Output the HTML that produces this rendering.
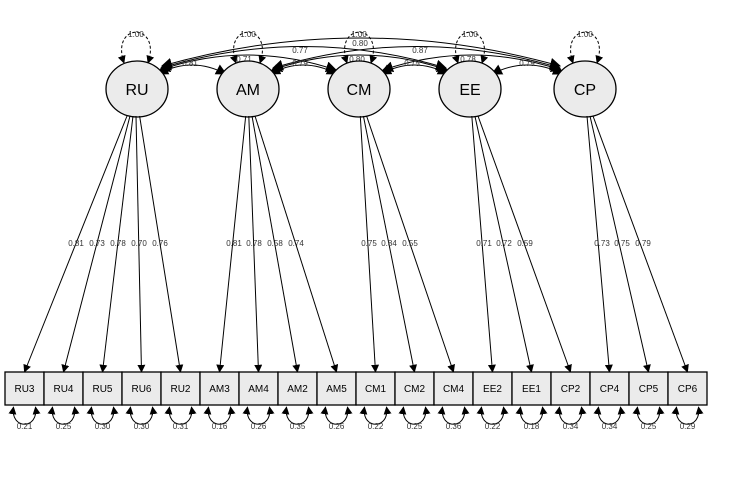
<!DOCTYPE html>
<html><head><style>
body{margin:0;background:#fff}
svg{display:block;font-family:"Liberation Sans",sans-serif}
.l{stroke:#000;stroke-width:1;fill:none}
.t{font-size:8px;fill:#333;text-anchor:middle}
.n{font-size:16px;text-anchor:middle;fill:#000}
.b{font-size:10px;text-anchor:middle;fill:#000}
</style></head><body>
<svg width="729" height="501" viewBox="0 0 729 501">
<defs>
<marker id="a" viewBox="0 0 10 10" refX="9" refY="5" markerWidth="8" markerHeight="8" markerUnits="userSpaceOnUse" orient="auto-start-reverse"><path d="M0 0L10 5L0 10z" fill="#000"/></marker>
<marker id="c" viewBox="0 0 10 10" refX="9" refY="5" markerWidth="11" markerHeight="11" markerUnits="userSpaceOnUse" orient="auto-start-reverse"><path d="M0 0L10 5L0 10z" fill="#000"/></marker>
</defs>
<rect width="729" height="501" fill="#fff"/>
<g class="l" stroke-dasharray="3,2" marker-start="url(#a)" marker-end="url(#a)">
<path d="M124 63C110 22 162 22 148 63"/>
<path d="M236 63C222 22 274 22 260 63"/>
<path d="M347 63C333 22 385 22 371 63"/>
<path d="M458 63C444 22 496 22 482 63"/>
<path d="M573 63C559 22 611 22 597 63"/>
</g>
<g class="t"><text x="136" y="37">1.00</text><text x="248" y="37">1.00</text><text x="359" y="37">1.00</text><text x="470" y="37">1.00</text><text x="585" y="37">1.00</text></g>
<g class="l" marker-start="url(#c)" marker-end="url(#c)">
<path d="M158 74Q192 56 226 74"/>
<path d="M270 74Q303 56 337 74"/>
<path d="M381 74Q414 56 448 74"/>
<path d="M492 74Q527 56 563 74"/>
<path d="M160 70Q247 40 336 70"/>
<path d="M272 70Q359 40 447 70"/>
<path d="M383 70Q472 40 561 70"/>
<path d="M161 68Q303 25 446 68"/>
<path d="M273 68Q416 25 560 68"/>
<path d="M162 66Q360 10 560 66"/>
</g>
<g class="t">
<text x="190" y="66">0.81</text><text x="244" y="62">0.71</text><text x="300" y="66">0.79</text><text x="357" y="62">0.80</text><text x="412" y="66">0.75</text><text x="468" y="62">0.78</text><text x="527" y="66">0.79</text>
<text x="300" y="53">0.77</text><text x="360" y="46">0.80</text><text x="420" y="53">0.87</text>
</g>
<g fill="#ebebeb" stroke="#000" stroke-width="1.3">
<ellipse cx="137" cy="89" rx="31" ry="28"/><ellipse cx="248" cy="89" rx="31" ry="28"/><ellipse cx="359" cy="89" rx="31" ry="28"/><ellipse cx="470" cy="89" rx="31" ry="28"/><ellipse cx="585" cy="89" rx="31" ry="28"/>
</g>
<g class="n"><text x="137" y="95">RU</text><text x="248" y="95">AM</text><text x="359" y="95">CM</text><text x="470" y="95">EE</text><text x="585" y="95">CP</text></g>
<g class="l" marker-end="url(#a)">
<path d="M127 116L24.5 372"/><path d="M130 116L63.5 372"/><path d="M133 116L102.5 372"/><path d="M136 116L141.5 372"/><path d="M139.6 116L180.5 372"/>
<path d="M245.7 116L219.5 372"/><path d="M248.8 116L258.5 372"/><path d="M252 116L297.5 372"/><path d="M255 116L336.5 372"/>
<path d="M360.3 116L375.5 372"/><path d="M363.4 116L414.5 372"/><path d="M366.6 116L453.5 372"/>
<path d="M471.8 116L492.5 372"/><path d="M474.9 116L531.5 372"/><path d="M478 116L570.5 372"/>
<path d="M587 116L609.5 372"/><path d="M590 116L648.5 372"/><path d="M593 116L687.5 372"/>
</g>
<g class="t">
<text x="76" y="246">0.81</text><text x="97" y="246">0.73</text><text x="118" y="246">0.78</text><text x="139" y="246">0.70</text><text x="160" y="246">0.76</text>
<text x="234" y="246">0.81</text><text x="254" y="246">0.78</text><text x="275" y="246">0.58</text><text x="296" y="246">0.74</text>
<text x="369" y="246">0.75</text><text x="389" y="246">0.84</text><text x="410" y="246">0.55</text>
<text x="484" y="246">0.71</text><text x="504" y="246">0.72</text><text x="525" y="246">0.59</text>
<text x="602" y="246">0.73</text><text x="622" y="246">0.75</text><text x="643" y="246">0.79</text>
</g>
<g fill="#ebebeb" stroke="#000" stroke-width="1.3">
<rect x="5" y="372" width="39" height="33"/><rect x="44" y="372" width="39" height="33"/><rect x="83" y="372" width="39" height="33"/><rect x="122" y="372" width="39" height="33"/><rect x="161" y="372" width="39" height="33"/><rect x="200" y="372" width="39" height="33"/><rect x="239" y="372" width="39" height="33"/><rect x="278" y="372" width="39" height="33"/><rect x="317" y="372" width="39" height="33"/><rect x="356" y="372" width="39" height="33"/><rect x="395" y="372" width="39" height="33"/><rect x="434" y="372" width="39" height="33"/><rect x="473" y="372" width="39" height="33"/><rect x="512" y="372" width="39" height="33"/><rect x="551" y="372" width="39" height="33"/><rect x="590" y="372" width="39" height="33"/><rect x="629" y="372" width="39" height="33"/><rect x="668" y="372" width="39" height="33"/>
</g>
<g class="b">
<text x="24.5" y="392">RU3</text><text x="63.5" y="392">RU4</text><text x="102.5" y="392">RU5</text><text x="141.5" y="392">RU6</text><text x="180.5" y="392">RU2</text><text x="219.5" y="392">AM3</text><text x="258.5" y="392">AM4</text><text x="297.5" y="392">AM2</text><text x="336.5" y="392">AM5</text><text x="375.5" y="392">CM1</text><text x="414.5" y="392">CM2</text><text x="453.5" y="392">CM4</text><text x="492.5" y="392">EE2</text><text x="531.5" y="392">EE1</text><text x="570.5" y="392">CP2</text><text x="609.5" y="392">CP4</text><text x="648.5" y="392">CP5</text><text x="687.5" y="392">CP6</text>
</g>
<g class="l" marker-start="url(#a)" marker-end="url(#a)">
<path d="M13.5 407C10 430 39 430 35.5 407"/><path d="M52.5 407C49 430 78 430 74.5 407"/><path d="M91.5 407C88 430 117 430 113.5 407"/><path d="M130.5 407C127 430 156 430 152.5 407"/><path d="M169.5 407C166 430 195 430 191.5 407"/><path d="M208.5 407C205 430 234 430 230.5 407"/><path d="M247.5 407C244 430 273 430 269.5 407"/><path d="M286.5 407C283 430 312 430 308.5 407"/><path d="M325.5 407C322 430 351 430 347.5 407"/><path d="M364.5 407C361 430 390 430 386.5 407"/><path d="M403.5 407C400 430 429 430 425.5 407"/><path d="M442.5 407C439 430 468 430 464.5 407"/><path d="M481.5 407C478 430 507 430 503.5 407"/><path d="M520.5 407C517 430 546 430 542.5 407"/><path d="M559.5 407C556 430 585 430 581.5 407"/><path d="M598.5 407C595 430 624 430 620.5 407"/><path d="M637.5 407C634 430 663 430 659.5 407"/><path d="M676.5 407C673 430 702 430 698.5 407"/>
</g>
<g class="t">
<text x="24.5" y="429">0.21</text><text x="63.5" y="429">0.25</text><text x="102.5" y="429">0.30</text><text x="141.5" y="429">0.30</text><text x="180.5" y="429">0.31</text><text x="219.5" y="429">0.16</text><text x="258.5" y="429">0.26</text><text x="297.5" y="429">0.35</text><text x="336.5" y="429">0.26</text><text x="375.5" y="429">0.22</text><text x="414.5" y="429">0.25</text><text x="453.5" y="429">0.36</text><text x="492.5" y="429">0.22</text><text x="531.5" y="429">0.18</text><text x="570.5" y="429">0.34</text><text x="609.5" y="429">0.34</text><text x="648.5" y="429">0.25</text><text x="687.5" y="429">0.29</text>
</g>
</svg>
</body></html>
